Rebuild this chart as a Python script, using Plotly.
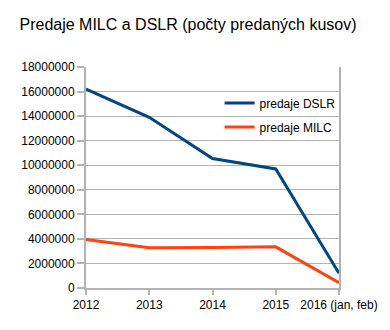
import plotly.graph_objects as go

years = ["2012", "2013", "2014", "2015", "2016 (jan, feb)"]
dslr = [16200000, 13900000, 10550000, 9700000, 1200000]
milc = [3960000, 3280000, 3290000, 3350000, 430000]
y_ticks = list(range(0, 18000001, 2000000))

fig = go.Figure()
fig.add_trace(go.Scatter(x=years, y=dslr, mode="lines", name="predaje DSLR",
                         line=dict(color="#004586", width=3), legendgroup="a"))
fig.add_trace(go.Scatter(x=years, y=milc, mode="lines", name="predaje MILC",
                         line=dict(color="#ff420e", width=3), legendgroup="b"))

fig.update_layout(
    width=390, height=330,
    margin=dict(l=86, r=48, t=67, b=42),
    paper_bgcolor="white", plot_bgcolor="white",
    font=dict(family="Liberation Sans, Arial, sans-serif", size=12, color="#000000"),
    title=dict(text="Predaje MILC a DSLR (počty predaných kusov)", x=0.05, xanchor="left",
               y=0.925, yanchor="middle", font=dict(size=16, color="#000000")),
    showlegend=True,
    legend=dict(x=0.528, y=0.903, xanchor="left", yanchor="top", bgcolor="rgba(0,0,0,0)",
                tracegroupgap=5, font=dict(size=12), itemwidth=30),
)
fig.update_xaxes(type="category", range=[0, 4], showgrid=False, showline=True,
                 linecolor="#b3b3b3", linewidth=2, ticks="outside", ticklen=5,
                 tickcolor="#b3b3b3", tickwidth=1.5, zeroline=False)
fig.update_yaxes(range=[0, 18000000], tickvals=y_ticks, tickformat="d", showgrid=True,
                 gridcolor="#b3b3b3", gridwidth=1, showline=True, mirror=True,
                 linecolor="#b3b3b3", linewidth=2, ticks="outside", ticklen=7,
                 tickcolor="#b3b3b3", tickwidth=1.5, zeroline=False)

fig.write_html("out.html")
